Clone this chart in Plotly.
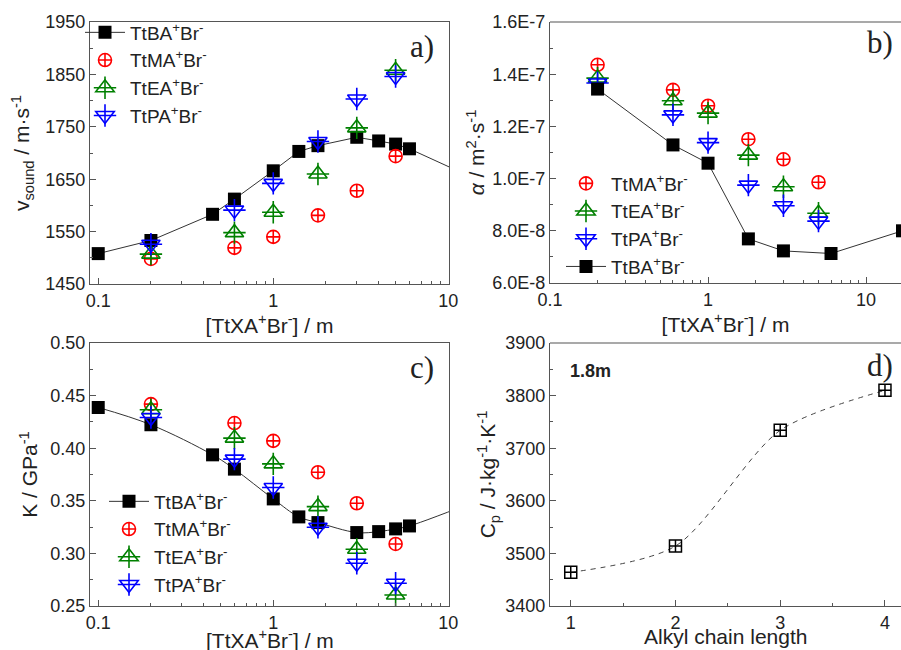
import plotly.graph_objects as go

# ---------------- data ----------------
# concentration axis (mol/kg) for TtBA+Br- (sound speed / compressibility panels)
conc_ba = [0.1, 0.2, 0.45, 0.6, 1.0, 1.4, 1.8, 3.0, 4.0, 5.0, 6.0, 17.0]
# concentrations shared by TtMA / TtEA / TtPA
conc_x = [0.2, 0.6, 1.0, 1.8, 3.0, 5.0]
# diffusivity panel concentrations for TtBA+Br-
conc_ba_alpha = [0.2, 0.6, 1.0, 1.8, 3.0, 6.0, 17.0]

# a) speed of sound / m s-1
vs_ba = [1508, 1533, 1583, 1612, 1666, 1703, 1714, 1730, 1723, 1717, 1708, 1639]
vs_ma = [1498, 1519, 1540, 1581, 1628, 1694]
vs_ea = [1507, 1548, 1587, 1660, 1748, 1858]
vs_pa = [1526, 1591, 1642, 1722, 1803, 1846]

# b) thermal diffusivity / m2 s-1
al_ba = [1.343e-7, 1.129e-7, 1.059e-7, 7.69e-8, 7.23e-8, 7.13e-8, 8.0e-8]
al_ma = [1.436e-7, 1.340e-7, 1.279e-7, 1.151e-7, 1.074e-7, 9.86e-8]
al_ea = [1.385e-7, 1.298e-7, 1.251e-7, 1.090e-7, 9.69e-8, 8.67e-8]
al_pa = [1.366e-7, 1.244e-7, 1.138e-7, 9.75e-8, 8.96e-8, 8.37e-8]

# c) isentropic compressibility / GPa-1
k_ba = [0.4387, 0.4223, 0.3937, 0.3801, 0.3518, 0.3347, 0.3293, 0.3198, 0.3207, 0.3233, 0.3261, 0.3544]
k_ma = [0.4419, 0.4239, 0.4070, 0.3772, 0.3477, 0.3090]
k_ea = [0.4365, 0.4096, 0.3851, 0.3445, 0.3040, 0.2605]
k_pa = [0.4292, 0.3896, 0.3626, 0.3249, 0.2906, 0.2716]

# d) heat capacity at 1.8 m vs alkyl chain length
chain = [1, 2, 3, 4]
cp = [3464, 3514, 3734, 3810]

# tick labels
alpha_ticks = [6e-8, 8e-8, 1.0e-7, 1.2e-7, 1.4e-7, 1.6e-7]
alpha_labels = ["6.0E-8", "8.0E-8", "1.0E-7", "1.2E-7", "1.4E-7", "1.6E-7"]
log_ticks = [0.1, 1, 10]
log_labels = ["0.1", "1", "10"]

# ---------------- layout helpers ----------------
W, H = 901, 650


def px_x(p):
    return p / W


def px_y(p):
    return 1 - p / H


FONT = "Liberation Sans, Arial, sans-serif"
AXC = "#555555"
TXT = "#222222"
RED, GREEN, BLUE = "#ff0000", "#008000", "#0000ff"

LEG_SIZE = 19
ITEM_H = LEG_SIZE * 1.3 + 3  # height of one legend row

fig = go.Figure()

ba_name = "TtBA<sup>+</sup>Br<sup>-</sup>"
ma_name = "TtMA<sup>+</sup>Br<sup>-</sup>"
ea_name = "TtEA<sup>+</sup>Br<sup>-</sup>"
pa_name = "TtPA<sup>+</sup>Br<sup>-</sup>"


def add_ba(x, y, xa, ya, leg, shape="linear"):
    fig.add_trace(go.Scatter(
        x=x, y=y, xaxis=xa, yaxis=ya, mode="lines+markers", name=ba_name,
        legend=leg,
        line=dict(color="#333333", width=1, shape=shape),
        marker=dict(symbol="square", size=13, color="black"),
    ))


def add_ma(x, y, xa, ya, leg):
    fig.add_trace(go.Scatter(
        x=x, y=y, xaxis=xa, yaxis=ya, mode="markers", name=ma_name,
        legend=leg,
        marker=dict(symbol="circle-cross-open", size=13, color=RED,
                    line=dict(width=1.6, color=RED)),
    ))


def add_tri(x, y, xa, ya, leg, cross_leg, sym, color, name):
    # open triangle with a thin cross drawn over it (the cross has its own
    # transparent-text legend laid over the triangle's legend row)
    fig.add_trace(go.Scatter(
        x=x, y=y, xaxis=xa, yaxis=ya, mode="markers", name=name,
        legend=leg,
        marker=dict(symbol=sym, size=16, color=color,
                    line=dict(width=1.6, color=color)),
    ))
    fig.add_trace(go.Scatter(
        x=x, y=y, xaxis=xa, yaxis=ya, mode="markers", name=name,
        legend=cross_leg, hoverinfo="skip",
        marker=dict(symbol="cross-thin-open", size=16, color=color,
                    line=dict(width=1.6, color=color)),
    ))


# panel a
add_ba(conc_ba, vs_ba, "x", "y", "legend")
add_ma(conc_x, vs_ma, "x", "y", "legend")
add_tri(conc_x, vs_ea, "x", "y", "legend", "legend4", "triangle-up-open", GREEN, ea_name)
add_tri(conc_x, vs_pa, "x", "y", "legend", "legend4", "triangle-down-open", BLUE, pa_name)

# panel b
add_ma(conc_x, al_ma, "x2", "y2", "legend2")
add_tri(conc_x, al_ea, "x2", "y2", "legend2", "legend5", "triangle-up-open", GREEN, ea_name)
add_tri(conc_x, al_pa, "x2", "y2", "legend2", "legend5", "triangle-down-open", BLUE, pa_name)
add_ba(conc_ba_alpha, al_ba, "x2", "y2", "legend2")

# panel c
add_ba(conc_ba, k_ba, "x3", "y3", "legend3", shape="spline")
add_ma(conc_x, k_ma, "x3", "y3", "legend3")
add_tri(conc_x, k_ea, "x3", "y3", "legend3", "legend6", "triangle-up-open", GREEN, ea_name)
add_tri(conc_x, k_pa, "x3", "y3", "legend3", "legend6", "triangle-down-open", BLUE, pa_name)

# panel d
fig.add_trace(go.Scatter(
    x=chain, y=cp, xaxis="x4", yaxis="y4", mode="lines+markers", showlegend=False,
    line=dict(color="#444444", width=1, dash="5px,5px", shape="spline", smoothing=0.8),
    marker=dict(symbol="square-cross-open", size=12, color="black",
                line=dict(width=1.5, color="black")),
))

tickfont = dict(family=FONT, size=18, color=TXT)
titlefont = dict(family=FONT, size=21, color=TXT)
log_minor = [m * 10 ** e for e in (-2, -1, 0, 1) for m in range(2, 10)]


def axis_common(**kw):
    d = dict(showline=True, linecolor=AXC, linewidth=1.2, ticks="inside",
             ticklen=6, tickcolor=AXC, tickwidth=1, tickfont=tickfont,
             showgrid=False, zeroline=False, automargin=False)
    d.update(kw)
    return d


xt = "[TtXA<sup>+</sup>Br<sup>-</sup>] / m"

layout = dict(
    width=W, height=H, margin=dict(l=0, r=0, t=0, b=0),
    paper_bgcolor="white", plot_bgcolor="white",
    font=dict(family=FONT, color=TXT),
    xaxis=axis_common(type="log", domain=[px_x(90), px_x(449)], range=[-1.047, 1.004],
                      anchor="y", mirror=True, tickvals=log_ticks, ticktext=log_labels,
                      minor=dict(tickvals=log_minor, ticks="inside", ticklen=3, tickcolor=AXC),
                      title=dict(text=xt, font=titlefont, standoff=0)),
    yaxis=axis_common(domain=[px_y(284), px_y(22)], range=[1450, 1950], anchor="x",
                      mirror=True, dtick=100, tick0=1450,
                      minor=dict(dtick=50, ticks="inside", ticklen=3, tickcolor=AXC),
                      title=dict(text="v<sub>sound</sub> / m·s<sup>-1</sup>", font=titlefont, standoff=9)),
    xaxis2=axis_common(type="log", domain=[px_x(550), 1.0], range=[-1, 1.221], anchor="y2",
                       tickvals=log_ticks, ticktext=log_labels,
                       minor=dict(tickvals=log_minor, ticks="inside", ticklen=3, tickcolor=AXC),
                       title=dict(text=xt, font=titlefont, standoff=0)),
    yaxis2=axis_common(domain=[px_y(283), px_y(22)], range=[6e-8, 1.6e-7], anchor="x2",
                       tickvals=alpha_ticks, ticktext=alpha_labels,
                       minor=dict(dtick=1e-8, tick0=0, ticks="inside", ticklen=3, tickcolor=AXC),
                       title=dict(text="<i>α</i> / m<sup>2</sup>·s<sup>-1</sup>", font=titlefont, standoff=1)),
    xaxis3=axis_common(type="log", domain=[px_x(90), px_x(449)], range=[-1.047, 1.004],
                       anchor="y3", mirror=True, tickvals=log_ticks, ticktext=log_labels,
                       minor=dict(tickvals=log_minor, ticks="inside", ticklen=3, tickcolor=AXC)),
    yaxis3=axis_common(domain=[px_y(606), px_y(343)], range=[0.25, 0.50], anchor="x3",
                       mirror=True, dtick=0.05, tick0=0.25, tickformat=".2f",
                       minor=dict(dtick=0.025, ticks="inside", ticklen=3, tickcolor=AXC),
                       title=dict(text="K / GPa<sup>-1</sup>", font=titlefont, standoff=6)),
    xaxis4=axis_common(domain=[px_x(550), 1.0], range=[0.802, 4.153], anchor="y4",
                       dtick=1, tick0=1,
                       minor=dict(dtick=0.5, tick0=1, ticks="inside", ticklen=3, tickcolor=AXC)),
    yaxis4=axis_common(domain=[px_y(606), px_y(343)], range=[3400, 3900], anchor="x4",
                       dtick=100, tick0=3400,
                       minor=dict(dtick=50, ticks="inside", ticklen=3, tickcolor=AXC),
                       title=dict(text="C<sub>p</sub> / J·kg<sup>-1</sup>·K<sup>-1</sup>", font=titlefont, standoff=3)),
)

legfont = dict(family=FONT, size=LEG_SIZE, color=TXT)
clearfont = dict(family=FONT, size=LEG_SIZE, color="rgba(0,0,0,0)")
leg_common = dict(bgcolor="rgba(0,0,0,0)", traceorder="normal",
                  xanchor="left", yanchor="top", itemwidth=40)

# legend anchors (left, top) in pixels, and the row of the first triangle entry
legend_pos = {
    "a": (80, 13.5, 2),
    "b": (561, 164.5, 1),
    "c": (104, 482.5, 2),
}
for key, main, cross in (("a", "legend", "legend4"), ("b", "legend2", "legend5"),
                         ("c", "legend3", "legend6")):
    lx, ly, row = legend_pos[key]
    layout[main] = dict(leg_common, font=legfont, x=px_x(lx), y=px_y(ly))
    layout[cross] = dict(leg_common, font=clearfont, x=px_x(lx), y=px_y(ly + row * ITEM_H))

fig.update_layout(**layout)

# top borders for the right-hand panels
for xa, ya in (("x2", "y2"), ("x4", "y4")):
    fig.add_shape(type="line", xref=f"{xa} domain", yref=f"{ya} domain",
                  x0=0, x1=1, y0=1, y1=1, line=dict(color=AXC, width=1.2))

# x titles of the lower row sit at the bottom edge of the page
for txt, xp, yp in ((xt, 269.5, 638.5), ("Alkyl chain length", 725.5, 636.5)):
    fig.add_annotation(text=txt, x=px_x(xp), y=px_y(yp), xref="paper", yref="paper",
                       xanchor="center", yanchor="middle", showarrow=False, font=titlefont)

# panel letters
SERIF = "Liberation Serif, Times New Roman, serif"
for txt, xp, yp in (("a)", 422, 47), ("b)", 880, 43), ("c)", 422, 367), ("d)", 880, 365)):
    fig.add_annotation(text=txt, x=px_x(xp), y=px_y(yp), xref="paper", yref="paper",
                       xanchor="center", yanchor="middle", showarrow=False,
                       font=dict(family=SERIF, size=31, color=TXT))

fig.add_annotation(text="<b>1.8m</b>", x=px_x(568), y=px_y(371), xref="paper", yref="paper",
                   xanchor="left", yanchor="middle", showarrow=False,
                   font=dict(family=FONT, size=18, color=TXT))

fig.write_html("out.html")
